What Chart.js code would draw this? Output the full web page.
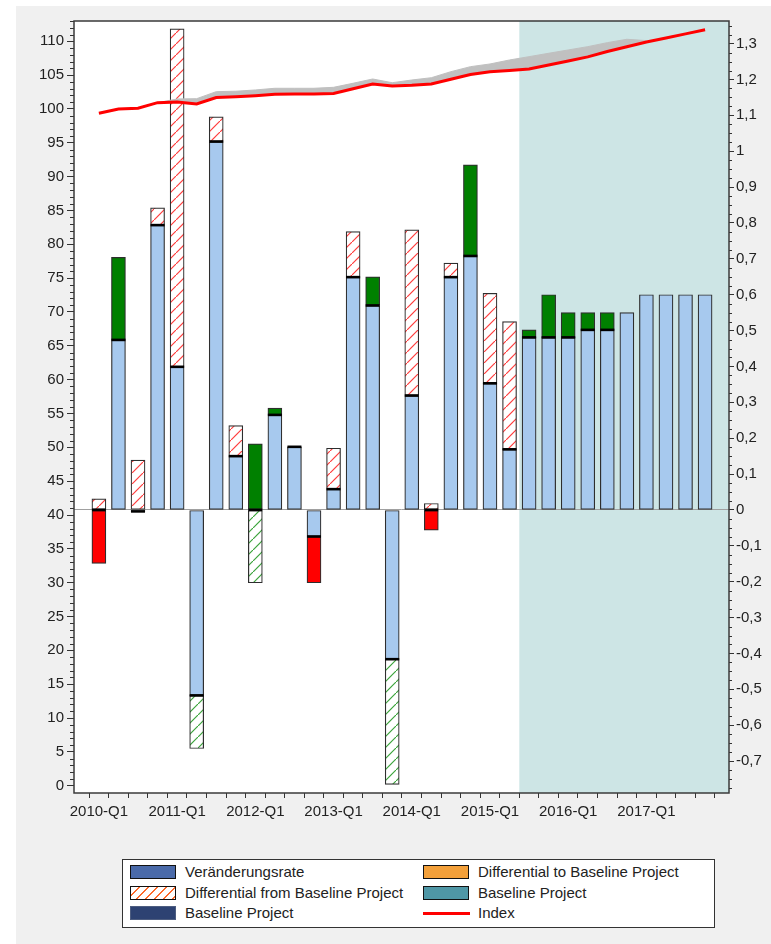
<!DOCTYPE html>
<html>
<head>
<meta charset="utf-8">
<title>Veränderungsrate und Index</title>
<script src="https://cdn.jsdelivr.net/npm/chart.js@4.4.0/dist/chart.umd.min.js"></script>
<style>
  html, body { margin: 0; padding: 0; background: #fff; }
  body { width: 771px; height: 944px; position: relative; overflow: hidden; font-family: "Liberation Sans", Arial, sans-serif; }
  #panel { position: absolute; left: 16px; top: 6px; right: 0; bottom: 0; background: #f0f0f0; }
  #chart { position: absolute; left: 0; top: 0; }
  #legend { position: absolute; left: 122px; top: 859px; width: 591px; height: 67px; background: #fff; border: 1px solid #333; }
  .item { position: absolute; height: 14px; width: 280px; font-size: 15px; color: #222; white-space: nowrap; }
  .sw { position: absolute; left: 0; top: 0; width: 44px; height: 12px; border: 1px solid #111; box-sizing: content-box; }
  .lab { position: absolute; left: 55px; top: -2px; line-height: 17px; }
  .c1 { left: 7px; } .c2 { left: 300px; }
  .r1 { top: 5px; } .r2 { top: 26px; } .r3 { top: 46px; }
</style>
</head>
<body>
<div id="panel"></div>
<canvas id="chart" width="771" height="850"></canvas>
<div id="legend">
  <div class="item c1 r1"><span class="sw" style="background:#4a6aa9"></span><span class="lab">Veränderungsrate</span></div>
  <div class="item c1 r2"><span class="sw" style="background:repeating-linear-gradient(135deg,#fff 0 5px,#ff6a2a 5px 6.4px)"></span><span class="lab">Differential from Baseline Project</span></div>
  <div class="item c1 r3"><span class="sw" style="background:#2d4272;border-color:#4d5d80"></span><span class="lab">Baseline Project</span></div>
  <div class="item c2 r1"><span class="sw" style="background:#f3a03a"></span><span class="lab">Differential to Baseline Project</span></div>
  <div class="item c2 r2"><span class="sw" style="background:#4f97a6"></span><span class="lab">Baseline Project</span></div>
  <div class="item c2 r3"><span class="sw" style="border:0;height:3px;top:6px;width:47px;background:#ff0000"></span><span class="lab">Index</span></div>
</div>
<script>
const quarters = [
  '2010-Q1', '2010-Q2', '2010-Q3', '2010-Q4', '2011-Q1', '2011-Q2', '2011-Q3', '2011-Q4',
  '2012-Q1', '2012-Q2', '2012-Q3', '2012-Q4', '2013-Q1', '2013-Q2', '2013-Q3', '2013-Q4',
  '2014-Q1', '2014-Q2', '2014-Q3', '2014-Q4', '2015-Q1', '2015-Q2', '2015-Q3', '2015-Q4',
  '2016-Q1', '2016-Q2', '2016-Q3', '2016-Q4', '2017-Q1', '2017-Q2', '2017-Q3', '2017-Q4'
];

// right axis (rate)
const rate = [0, 0.474, -0.004, 0.794, 0.399, -0.517, 1.027, 0.150, 0, 0.265, 0.176, -0.074, 0.058, 0.649, 0.570, -0.416,
              0.319, 0, 0.649, 0.708, 0.353, 0.169, 0.481, 0.481, 0.481, 0.502, 0.502, 0.55, 0.6, 0.6, 0.6, 0.6];
const baselineMark = [0, 0.474, -0.004, 0.794, 0.399, -0.517, 1.027, 0.150, 0, 0.265, 0.176, -0.074, 0.058, 0.649, 0.570, -0.416,
              0.319, 0, 0.649, 0.708, 0.353, 0.169, 0.481, 0.481, 0.481, 0.502, 0.502, null, null, null, null, null];
const diffAbove = [0.031, null, 0.139, 0.048, 0.942, null, 0.069, 0.085, null, null, null, null, 0.114, 0.127, null, null,
              0.462, 0.018, 0.039, null, 0.251, 0.356, null, null, null, null, null, null, null, null, null, null];
const diffBelow = [null, null, null, null, null, -0.148, null, null, -0.203, null, null, null, null, null, null, -0.349,
              null, null, null, null, null, null, null, null, null, null, null, null, null, null, null, null];
const gain = [null, 0.230, null, null, null, null, null, null, 0.184, 0.019, null, null, null, null, 0.080, null,
              null, null, null, 0.254, null, null, 0.021, 0.119, 0.069, 0.048, 0.048, null, null, null, null, null];
const loss = [-0.149, null, null, null, null, null, null, null, null, null, null, -0.129, null, null, null, null,
              null, -0.056, null, null, null, null, null, null, null, null, null, null, null, null, null, null];

// left axis (index)
const indexValues = [99.36, 100.0, 100.1, 100.93, 101.03, 100.74, 101.7, 101.82, 101.97, 102.17, 102.2, 102.2, 102.3, 103.0, 103.7, 103.4,
              103.5, 103.7, 104.4, 105.1, 105.5, 105.7, 105.9, 106.5, 107.1, 107.7, 108.5, 109.2, 109.9, 110.5, 111.1, 111.7];
const baselineIndex = [99.36, 100.0, 100.1, 100.93, 101.48, 101.52, 102.56, 102.62, 102.81, 103.06, 103.06, 103.06, 103.2, 103.8, 104.43, 103.88,
              104.28, 104.62, 105.51, 106.25, 106.65, 107.24, 107.73, 108.23, 108.72, 109.21, 109.8, 110.3, 110.1, null, null, null];

const leftTicks = [0, 5, 10, 15, 20, 25, 30, 35, 40, 45, 50, 55, 60, 65, 70, 75, 80, 85, 90, 95, 100, 105, 110];
const rightTicks = [-0.7, -0.6, -0.5, -0.4, -0.3, -0.2, -0.1, 0, 0.1, 0.2, 0.3, 0.4, 0.5, 0.6, 0.7, 0.8, 0.9, 1, 1.1, 1.2, 1.3];
const leftMinorStep = 1;
const rightMinorStep = 0.025;
const forecastFrom = 21.5;

Chart.defaults.font.family = '"Liberation Sans", Arial, sans-serif';
Chart.defaults.font.size = 15;
Chart.defaults.color = '#222';

const ctx = document.getElementById('chart').getContext('2d');

function hatch(color) {
  const c = document.createElement('canvas');
  c.width = 11; c.height = 11;
  const g = c.getContext('2d');
  g.fillStyle = '#fff';
  g.fillRect(0, 0, 11, 11);
  g.strokeStyle = color;
  g.lineWidth = 1.2;
  g.beginPath();
  g.moveTo(-1, 12); g.lineTo(12, -1);
  g.stroke();
  return ctx.createPattern(c, 'repeat');
}

const pts = arr => arr.map((v, i) => ({x: i, y: v}));

const bar = {type: 'bar', yAxisID: 'y', stack: 'rate', barThickness: 14, borderColor: '#2e2e2e', borderWidth: 1.2,
             borderSkipped: false, order: 3};

const plotDecor = {
  id: 'plotDecor',
  beforeDraw(chart) {
    const {ctx, chartArea: a, scales: {x}} = chart;
    ctx.save();
    ctx.fillStyle = '#fff';
    ctx.fillRect(a.left, a.top, a.width, a.height);
    const fx = x.getPixelForValue(forecastFrom);
    ctx.fillStyle = '#cde5e5';
    ctx.fillRect(fx, a.top, a.right - fx, a.height);
    ctx.restore();
  },
  afterDraw(chart) {
    const {ctx, chartArea: a, scales: {yL, y}} = chart;
    ctx.save();
    ctx.strokeStyle = '#333';
    ctx.lineWidth = 1;
    ctx.beginPath();
    // minor ticks
    for (let v = leftMinorStep; v <= yL.max; v += leftMinorStep) {
      if (v % 5 === 0) continue;
      const py = Math.round(yL.getPixelForValue(v)) + 0.5;
      ctx.moveTo(a.left - 4, py); ctx.lineTo(a.left, py);
    }
    for (let k = Math.ceil(y.min / rightMinorStep); k * rightMinorStep <= y.max; k++) {
      if (k % 4 === 0) continue;
      const py = Math.round(y.getPixelForValue(k * rightMinorStep)) + 0.5;
      ctx.moveTo(a.right, py); ctx.lineTo(a.right + 3, py);
    }
    ctx.stroke();
    ctx.lineWidth = 1.5;
    ctx.strokeStyle = '#3a3a3a';
    ctx.strokeRect(a.left, a.top, a.width, a.height);
    ctx.restore();
  }
};

new Chart(ctx, {
  type: 'bar',
  data: {
    datasets: [
      {type: 'line', label: 'Index', yAxisID: 'yL', data: pts(indexValues), borderColor: '#ff0000', borderWidth: 3,
       pointRadius: 0, tension: 0, order: 0},
      {type: 'line', label: 'Baseline Index', yAxisID: 'yL', data: pts(baselineIndex), borderColor: '#c0c0c0', borderWidth: 1,
       backgroundColor: '#c0c0c0', fill: 0, pointRadius: 0, tension: 0, order: 1},
      {type: 'line', label: 'Baseline Project', yAxisID: 'y', data: pts(baselineMark), showLine: false,
       pointStyle: 'line', pointRadius: 7, pointBorderWidth: 2.6, pointBorderColor: '#000', pointBackgroundColor: '#000', order: 2},
      Object.assign({label: 'Veränderungsrate', data: pts(rate), backgroundColor: '#a7c9ee'}, bar),
      Object.assign({label: 'Differential from Baseline Project', data: pts(diffAbove), backgroundColor: hatch('#ff3b3b')}, bar),
      Object.assign({label: 'Differential from Baseline Project (neg.)', data: pts(diffBelow), backgroundColor: hatch('#3aa33a')}, bar),
      Object.assign({label: 'Differential to Baseline Project', data: pts(gain), backgroundColor: '#008000'}, bar),
      Object.assign({label: 'Differential to Baseline Project (neg.)', data: pts(loss), backgroundColor: '#ff0000'}, bar)
    ]
  },
  options: {
    responsive: false,
    animation: false,
    layout: {padding: {top: 21, left: 0, right: 0, bottom: 0}},
    plugins: {legend: {display: false}, tooltip: {enabled: false}},
    scales: {
      x: {
        type: 'linear',
        stacked: true,
        min: -0.75,
        max: 31.7,
        afterBuildTicks: s => { s.ticks = quarters.map((q, i) => ({value: i})); },
        afterFit: s => { s.height = 57; },
        ticks: {
          autoSkip: false,
          maxRotation: 0,
          padding: 5,
          callback: (v, i) => i % 4 === 0 ? quarters[i] : ''
        },
        grid: {drawOnChartArea: false, tickLength: 5, tickColor: '#333'},
        border: {display: false}
      },
      yL: {
        position: 'left',
        stacked: false,
        min: -1.08,
        max: 113,
        afterBuildTicks: s => { s.ticks = leftTicks.map(v => ({value: v})); },
        afterFit: s => { s.width = 74; },
        ticks: {padding: 3},
        grid: {drawOnChartArea: false, tickLength: 7, tickColor: '#333'},
        border: {display: false}
      },
      y: {
        position: 'right',
        stacked: true,
        min: -0.789,
        max: 1.363,
        afterBuildTicks: s => { s.ticks = rightTicks.map(v => ({value: v})); },
        afterFit: s => { s.width = 42; },
        ticks: {padding: 2, callback: v => String(v).replace('.', ',')},
        grid: {
          color: c => c.tick && c.tick.value === 0 ? '#a0a0a0' : 'rgba(0,0,0,0)',
          tickColor: '#333',
          tickLength: 5
        },
        border: {display: false}
      }
    }
  },
  plugins: [plotDecor]
});
</script>
</body>
</html>
